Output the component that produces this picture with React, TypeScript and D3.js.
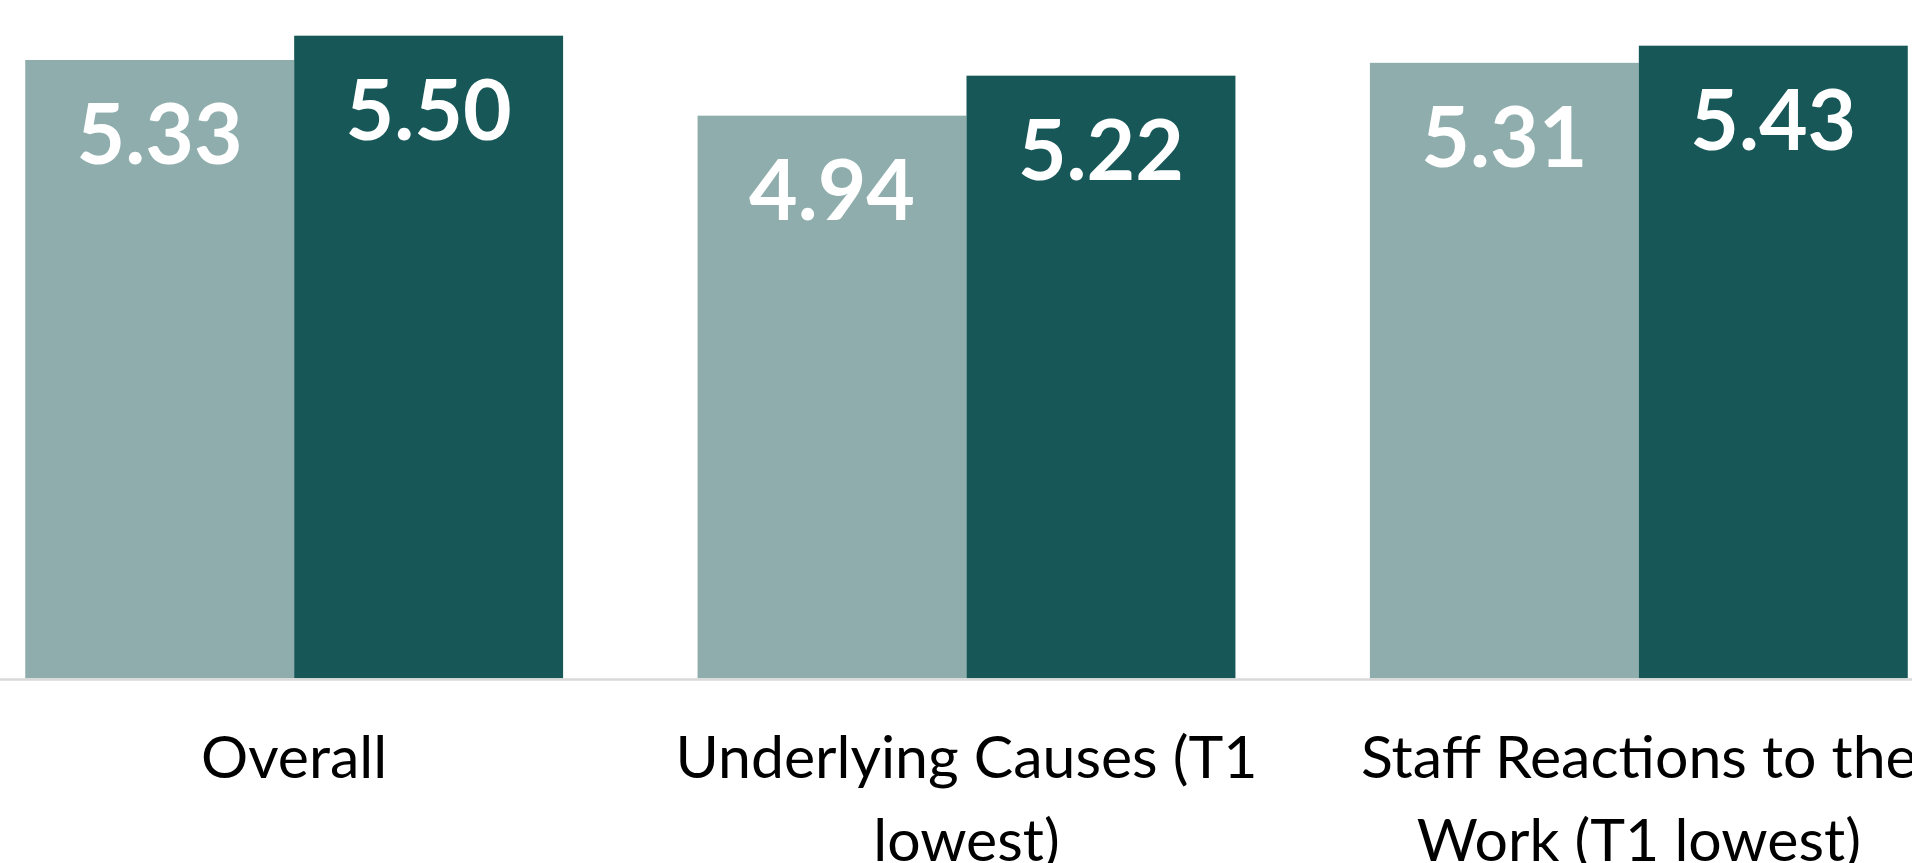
import * as d3 from 'd3';

const categories = ['Overall', 'Underlying Causes', 'Staff Reactions'];
const categoryLines = [
  ['Overall'],
  ['Underlying Causes (T1', 'lowest)'],
  ['Staff Reactions to the', 'Work (T1 lowest)'],
];
const seriesNames = ['T1', 'T2'];
const t1Values = [5.33, 4.94, 5.31];
const t2Values = [5.5, 5.22, 5.43];
const seriesColors = ['#8EADAC', '#175757'];

const width = 1912;
const height = 863;
const baseline = 678.3;

export default function App() {
  const x = d3.scaleBand<string>().domain(categories).range([-42, 1975]).paddingInner(0.2).paddingOuter(0.1);
  const xSub = d3.scaleBand<string>().domain(seriesNames).range([0, x.bandwidth()]);
  const y = d3.scaleLinear().domain([1, 6]).range([baseline, baseline - 5 * 142.8]);

  const rows = categories.map((cat, i) => ({
    cat,
    values: [t1Values[i], t2Values[i]],
  }));

  return (
    <div style={{ position: 'absolute', left: 0, top: 0 }}>
      <svg width={width} height={height} style={{ display: 'block', background: '#fff' }}>
        {rows.map((row, i) => (
          <g key={row.cat} transform={`translate(${x(row.cat)},0)`}>
            {row.values.map((v, j) => (
              <g key={seriesNames[j]}>
                <rect
                  x={xSub(seriesNames[j])}
                  y={y(v)}
                  width={xSub.bandwidth()}
                  height={baseline - y(v)}
                  fill={seriesColors[j]}
                />
                <text
                  x={(xSub(seriesNames[j]) ?? 0) + xSub.bandwidth() / 2}
                  y={y(v) + 104}
                  textAnchor="middle"
                  fill="#ffffff"
                  fontFamily="Lato, 'Open Sans', sans-serif"
                  fontWeight={700}
                  fontSize={84}
                >
                  {v.toFixed(2)}
                </text>
              </g>
            ))}
            <text
              x={x.bandwidth() / 2}
              y={778}
              textAnchor="middle"
              fill="#000000"
              fontFamily="Lato, 'Open Sans', sans-serif"
              fontSize={59}
            >
              {categoryLines[i].map((line, k) => (
                <tspan key={k} x={x.bandwidth() / 2} dy={k === 0 ? 0 : 83}>
                  {line}
                </tspan>
              ))}
            </text>
          </g>
        ))}
        <line x1={0} x2={width} y1={baseline + 1.3} y2={baseline + 1.3} stroke="#D9D9D9" strokeWidth={2.5} />
      </svg>
    </div>
  );
}
